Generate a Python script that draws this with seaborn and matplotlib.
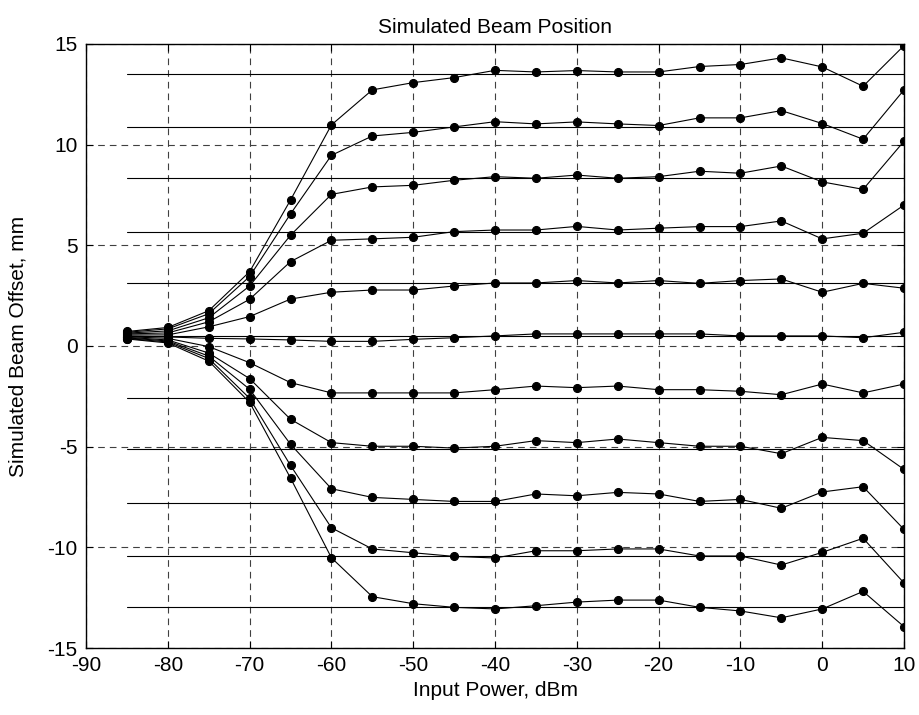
import pandas as pd
import seaborn as sns
import matplotlib.pyplot as plt

# input power sweep, dBm
power = [-85, -80, -75, -70, -65, -60, -55, -50, -45, -40,
         -35, -30, -25, -20, -15, -10, -5, 0, 5, 10]

# simulated beam offset per beam, mm
beam_1 = [0.72, 0.92, 1.75, 3.69, 7.25, 10.98, 12.72, 13.08, 13.33, 13.69,
          13.61, 13.68, 13.61, 13.61, 13.88, 13.98, 14.31, 13.86, 12.90, 14.92]
beam_2 = [0.68, 0.85, 1.60, 3.45, 6.56, 9.47, 10.43, 10.61, 10.88, 11.14,
          11.03, 11.13, 11.03, 10.95, 11.33, 11.33, 11.69, 11.05, 10.27, 12.72]
beam_3 = [0.64, 0.75, 1.40, 2.98, 5.50, 7.53, 7.90, 7.98, 8.23, 8.41,
          8.33, 8.49, 8.33, 8.41, 8.68, 8.58, 8.94, 8.15, 7.78, 10.17]
beam_4 = [0.60, 0.65, 1.20, 2.32, 4.19, 5.25, 5.32, 5.40, 5.68, 5.76,
          5.76, 5.94, 5.76, 5.85, 5.93, 5.93, 6.21, 5.32, 5.60, 7.00]
beam_5 = [0.55, 0.55, 0.95, 1.46, 2.33, 2.67, 2.78, 2.78, 2.98, 3.13,
          3.13, 3.25, 3.13, 3.25, 3.11, 3.25, 3.33, 2.67, 3.11, 2.87]
beam_6 = [0.50, 0.45, 0.38, 0.35, 0.30, 0.23, 0.23, 0.33, 0.41, 0.50,
          0.60, 0.60, 0.60, 0.60, 0.60, 0.50, 0.50, 0.50, 0.41, 0.68]
beam_7 = [0.46, 0.38, -0.03, -0.83, -1.82, -2.33, -2.33, -2.33, -2.33, -2.17,
          -1.99, -2.07, -1.99, -2.17, -2.17, -2.25, -2.42, -1.89, -2.33, -1.89]
beam_8 = [0.43, 0.30, -0.35, -1.62, -3.64, -4.80, -4.98, -4.98, -5.07, -4.98,
          -4.70, -4.80, -4.62, -4.80, -4.98, -4.98, -5.35, -4.54, -4.70, -6.13]
beam_9 = [0.40, 0.25, -0.50, -2.15, -4.88, -7.09, -7.52, -7.62, -7.72, -7.72,
          -7.35, -7.44, -7.27, -7.35, -7.72, -7.62, -8.06, -7.25, -6.99, -9.11]
beam_10 = [0.37, 0.20, -0.62, -2.60, -5.93, -9.03, -10.08, -10.27, -10.45, -10.53,
           -10.17, -10.17, -10.08, -10.08, -10.43, -10.43, -10.88, -10.25, -9.55, -11.77]
beam_11 = [0.35, 0.15, -0.75, -2.80, -6.56, -10.52, -12.45, -12.80, -12.98, -13.06,
           -12.90, -12.72, -12.62, -12.62, -12.98, -13.16, -13.50, -13.06, -12.19, -13.94]

# expected (ideal) beam positions, mm
ideal = [13.50, 10.86, 8.33, 5.68, 3.15, 0.50, -2.60, -5.13, -7.80, -10.45, -12.98]
ideal_range = [-85, 10]

beams = [beam_1, beam_2, beam_3, beam_4, beam_5, beam_6,
         beam_7, beam_8, beam_9, beam_10, beam_11]

rows = []
for i, vals in enumerate(beams):
    for p, v in zip(power, vals):
        rows.append({'beam': i, 'power': p, 'offset': v})
df = pd.DataFrame(rows)

ref_rows = []
for i, lvl in enumerate(ideal):
    for p in ideal_range:
        ref_rows.append({'beam': i, 'power': p, 'offset': lvl})
ref = pd.DataFrame(ref_rows)

sns.set_theme(style='ticks')
plt.rcParams['font.family'] = ['Liberation Sans', 'DejaVu Sans']
plt.rcParams['axes.unicode_minus'] = False
plt.rcParams['text.color'] = 'black'
plt.rcParams['axes.labelcolor'] = 'black'

fig = plt.figure(figsize=(9.19, 7.15), dpi=100)
ax = fig.add_axes([0.0936, 0.0937, 0.8901, 0.8448])

# reference lines first, then simulated traces on top
sns.lineplot(data=ref, x='power', y='offset', units='beam', estimator=None,
             color='black', linewidth=0.8, ax=ax, legend=False)
sns.lineplot(data=df, x='power', y='offset', units='beam', estimator=None,
             color='black', linewidth=0.8, marker='o', markersize=5.8,
             markeredgecolor='black', markerfacecolor='black', ax=ax, legend=False)

ax.set_xlim(-90, 10)
ax.set_ylim(-15, 15)
ax.set_xticks(range(-90, 11, 10))
ax.set_yticks(range(-15, 16, 5))
ax.grid(True, color='#404040', linestyle=(0, (6, 4.5)), linewidth=0.8)
ax.set_axisbelow(True)
ax.tick_params(direction='in', length=5, top=True, right=True, labelsize=15,
               width=0.8, colors='black', labelcolor='black', pad=6)
for s in ax.spines.values():
    s.set_linewidth(1.0)
    s.set_color('black')

ax.set_title('Simulated Beam Position', fontsize=15, pad=8, color='black')
ax.set_xlabel('Input Power, dBm', fontsize=15, labelpad=4, color='black')
ax.set_ylabel('Simulated Beam Offset, mm', fontsize=15, labelpad=14, color='black')

plt.savefig('out.png', dpi=100)
plt.close()
